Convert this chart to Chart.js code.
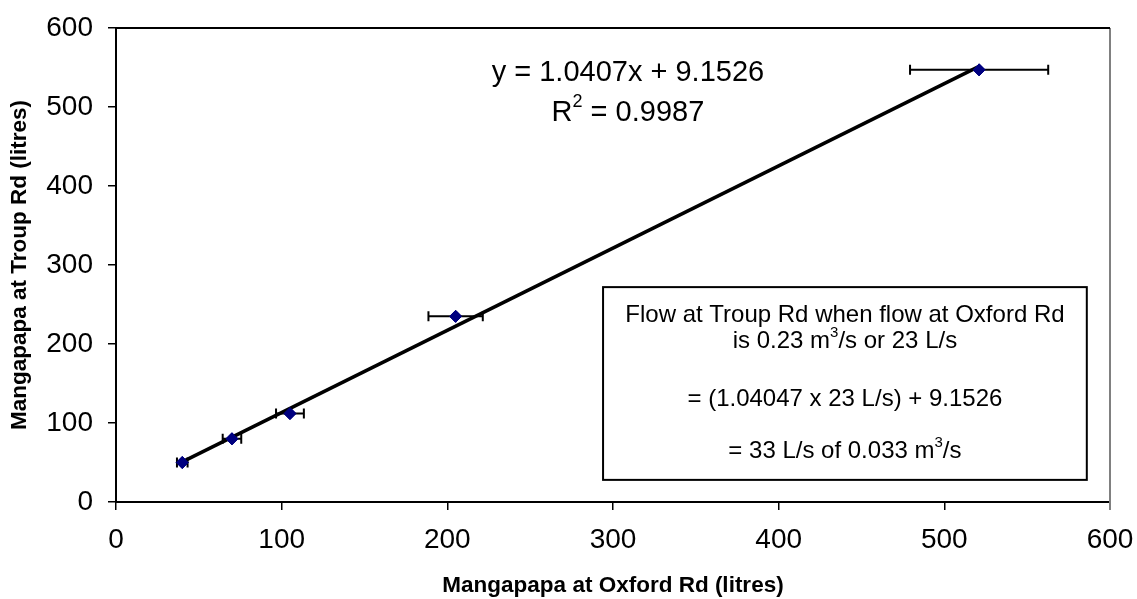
<!DOCTYPE html>
<html>
<head>
<meta charset="utf-8">
<script src="https://cdn.jsdelivr.net/npm/chart.js@4"></script>
<style>
html,body{margin:0;padding:0;background:#fff;}
#wrap{width:1137px;height:599px;position:relative;}
</style>
</head>
<body>
<div id="wrap"><canvas id="c" width="1137" height="599"></canvas></div>
<script>
// ---- data ----
const oxfordFlow = [40, 70, 105, 205, 521];
const troupFlow = [50, 80, 112, 235, 547];
const oxfordError = [3.2, 5.6, 8.4, 16.4, 41.7];
const trendSlope = 1.0407;
const trendIntercept = 9.1526;
const xTicks = [0, 100, 200, 300, 400, 500, 600];
const yTicks = [0, 100, 200, 300, 400, 500, 600];
const xTitle = 'Mangapapa at Oxford Rd (litres)';
const yTitle = 'Mangapapa at Troup Rd (litres)';
const eqLine1 = [['y = 1.0407x + 9.1526', '']];
const eqLine2 = [['R', ''], ['2', 'sup'], [' = 0.9987', '']];
const boxLines = [
  [['Flow at Troup Rd when flow at Oxford Rd', '']],
  [['is 0.23 m', ''], ['3', 'sup'], ['/s or 23 L/s', '']],
  [],
  [['= (1.04047 x 23 L/s) + 9.1526', '']],
  [],
  [['= 33 L/s of 0.033 m', ''], ['3', 'sup'], ['/s', '']]
];

const FONT = '"Liberation Sans", Arial, sans-serif';
const points = oxfordFlow.map((x, i) => ({x: x, y: troupFlow[i]}));
const xMinPt = Math.min(...oxfordFlow), xMaxPt = Math.max(...oxfordFlow);
const trend = [
  {x: xMinPt, y: trendSlope * xMinPt + trendIntercept},
  {x: xMaxPt, y: trendSlope * xMaxPt + trendIntercept}
];

function drawRich(ctx, parts, cx, cy, size) {
  const supSize = Math.round(size * 0.62);
  let total = 0;
  const widths = parts.map(p => {
    ctx.font = (p[1] === 'sup' ? supSize : size) + 'px ' + FONT;
    const w = ctx.measureText(p[0]).width;
    total += w;
    return w;
  });
  let x = cx - total / 2;
  ctx.textAlign = 'left';
  ctx.textBaseline = 'middle';
  parts.forEach((p, i) => {
    if (p[1] === 'sup') {
      ctx.font = supSize + 'px ' + FONT;
      ctx.fillText(p[0], x, cy - size * 0.36);
    } else {
      ctx.font = size + 'px ' + FONT;
      ctx.fillText(p[0], x, cy);
    }
    x += widths[i];
  });
}

const decor = {
  id: 'decor',
  beforeDatasetsDraw(chart) {
    const {ctx, chartArea: a} = chart;
    ctx.save();
    ctx.strokeStyle = '#808080';
    ctx.lineWidth = 2;
    ctx.beginPath();
    ctx.moveTo(a.right, a.top);
    ctx.lineTo(a.right, a.bottom + 8);
    ctx.stroke();
    ctx.strokeStyle = '#000';
    ctx.beginPath();
    ctx.moveTo(a.left, a.top);
    ctx.lineTo(a.right, a.top);
    ctx.stroke();
    ctx.restore();
  },
  afterDatasetsDraw(chart) {
    const {ctx, scales: {x, y}} = chart;
    ctx.save();
    ctx.strokeStyle = '#000';
    ctx.lineWidth = 2;
    points.forEach((p, i) => {
      const py = y.getPixelForValue(p.y);
      const x0 = x.getPixelForValue(p.x - oxfordError[i]);
      const x1 = x.getPixelForValue(p.x + oxfordError[i]);
      ctx.beginPath();
      ctx.moveTo(x0, py); ctx.lineTo(x1, py);
      ctx.moveTo(x0, py - 5); ctx.lineTo(x0, py + 5);
      ctx.moveTo(x1, py - 5); ctx.lineTo(x1, py + 5);
      ctx.stroke();
    });
    const meta = chart.getDatasetMeta(1);
    meta.data.forEach(el => el.draw(ctx, chart.chartArea));
    ctx.fillStyle = '#000';
    const ex = x.getPixelForValue(309);
    drawRich(ctx, eqLine1, ex, y.getPixelForValue(543), 29);
    drawRich(ctx, eqLine2, ex, y.getPixelForValue(493), 29);
    const bl = x.getPixelForValue(294), br = x.getPixelForValue(586);
    const bt = y.getPixelForValue(272), bb = y.getPixelForValue(28);
    ctx.fillStyle = '#fff';
    ctx.fillRect(bl, bt, br - bl, bb - bt);
    ctx.strokeStyle = '#000';
    ctx.lineWidth = 2;
    ctx.strokeRect(bl, bt, br - bl, bb - bt);
    ctx.fillStyle = '#000';
    const bc = (bl + br) / 2;
    const lineYs = [315, 341, 367, 399, 425, 451];
    boxLines.forEach((ln, i) => {
      if (ln.length) drawRich(ctx, ln, bc, lineYs[i], 24);
    });
    ctx.restore();
  }
};

new Chart(document.getElementById('c'), {
  type: 'scatter',
  data: {
    datasets: [
      {
        type: 'line',
        label: 'Linear trend',
        data: trend,
        borderColor: '#000',
        borderWidth: 3.5,
        pointRadius: 0,
        fill: false
      },
      {
        label: 'Flow',
        data: points,
        pointStyle: 'rectRot',
        pointRadius: 6,
        backgroundColor: '#000080',
        borderColor: '#000080',
        borderWidth: 1
      }
    ]
  },
  options: {
    responsive: false,
    animation: false,
    devicePixelRatio: 1,
    layout: {padding: {top: 28, right: 27, left: 0, bottom: 0}},
    plugins: {legend: {display: false}, tooltip: {enabled: false}},
    scales: {
      x: {
        type: 'linear',
        min: 0, max: 600,
        afterBuildTicks: s => { s.ticks = xTicks.map(v => ({value: v})); },
        afterFit: s => { s.height = 97; s.paddingLeft = 0; s.paddingRight = 0; },
        border: {display: true, color: '#000', width: 2},
        grid: {display: true, drawOnChartArea: false, drawTicks: true, tickLength: 8, color: '#000', lineWidth: 1.5},
        ticks: {color: '#000', font: {family: FONT, size: 28}, padding: 13, maxRotation: 0},
        title: {display: true, text: xTitle, color: '#000', font: {family: FONT, size: 22.5, weight: 'bold'}, padding: {top: 6, bottom: 0}}
      },
      y: {
        type: 'linear',
        min: 0, max: 600,
        afterBuildTicks: s => { s.ticks = yTicks.map(v => ({value: v})); },
        afterFit: s => { s.width = 116; s.paddingTop = 0; s.paddingBottom = 0; },
        border: {display: true, color: '#000', width: 2},
        grid: {display: true, drawOnChartArea: false, drawTicks: true, tickLength: 8, color: '#000', lineWidth: 1.5},
        ticks: {color: '#000', font: {family: FONT, size: 28}, padding: 15},
        title: {display: true, text: yTitle, color: '#000', font: {family: FONT, size: 22.5, weight: 'bold'}, padding: {top: 6, bottom: 0}}
      }
    }
  },
  plugins: [decor]
});
</script>
</body>
</html>
